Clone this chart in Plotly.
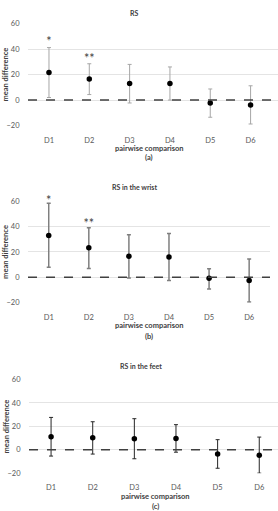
import plotly.graph_objects as go

categories = ["D1", "D2", "D3", "D4", "D5", "D6"]

# Panel (a) RS
a_mean = [21.6, 16.5, 13.0, 13.0, -2.3, -3.8]
a_upper = [41.2, 28.5, 28.0, 26.0, 8.7, 11.2]
a_lower = [2.0, 4.3, -2.3, 0.0, -13.5, -18.8]
a_stars = ["*", "**"]
a_star_y = [44.8, 31.9]

# Panel (b) RS in the wrist
b_mean = [33.0, 23.2, 16.5, 16.0, -0.8, -2.6]
b_upper = [58.3, 39.0, 33.5, 34.6, 6.7, 14.5]
b_lower = [8.0, 7.0, -0.5, -2.6, -9.3, -19.4]
b_stars = ["*", "**"]
b_star_y = [59.5, 41.6]

# Panel (c) RS in the feet
c_mean = [11.2, 10.3, 9.5, 9.8, -3.6, -4.5]
c_upper = [27.7, 24.0, 26.6, 21.5, 8.7, 10.9]
c_lower = [-5.3, -3.6, -7.6, -2.0, -15.7, -19.9]

titles = ["RS", "RS in the wrist", "RS in the feet"]
labels = ["(a)", "(b)", "(c)"]
y_ticks = [-20, 0, 20, 40, 60]

W, H = 278, 511
FONT = "Lato, Open Sans, sans-serif"
TICKC = "#595959"
TXTC = "#404040"

panels = [
    dict(mean=a_mean, up=a_upper, lo=a_lower, stars=a_stars, stary=a_star_y,
         top=20.0, bot=123.7, left=28, right=278, xr=[-0.52, 5.68],
         ecol="#a6a6a6", eth=1.0, title_y=9, title_x=134, xt_y=147, lab_y=156, xt_x=149),
    dict(mean=b_mean, up=b_upper, lo=b_lower, stars=b_stars, stary=b_star_y,
         top=200.7, bot=304.0, left=28, right=270, xr=[-0.517, 5.52],
         ecol="#7f7f7f", eth=1.5, title_y=186, title_x=134, xt_y=327, lab_y=338, xt_x=149),
    dict(mean=c_mean, up=c_upper, lo=c_lower, stars=[], stary=[],
         top=382.3, bot=477.7, left=29, right=278, xr=[-0.53, 5.45],
         ecol="#262626", eth=1.0, title_y=368, title_x=141, xt_y=501, lab_y=511, xt_x=155),
]

fig = go.Figure()
annotations = []
shapes = []

for i, p in enumerate(panels):
    n = "" if i == 0 else str(i + 1)
    xa, ya = "x" + n, "y" + n
    fig.add_trace(go.Scatter(
        x=categories, y=p["mean"], mode="markers",
        marker=dict(color="black", size=5.5),
        error_y=dict(type="data", symmetric=False,
                     array=[u - m for u, m in zip(p["up"], p["mean"])],
                     arrayminus=[m - l for m, l in zip(p["mean"], p["lo"])],
                     color=p["ecol"], thickness=p["eth"], width=2),
        xaxis=xa, yaxis=ya, showlegend=False, hoverinfo="skip"))
    if p["stars"]:
        fig.add_trace(go.Scatter(
            x=categories[:len(p["stars"])], y=p["stary"], mode="text",
            text=p["stars"], textposition="middle center", cliponaxis=False,
            textfont=dict(family=FONT, size=12.5, color=TXTC),
            xaxis=xa, yaxis=ya, showlegend=False, hoverinfo="skip"))
    ydom = [1 - p["bot"] / H, 1 - p["top"] / H]
    xdom = [p["left"] / W, min(1.0, p["right"] / W)]
    fig.layout["xaxis" + n] = dict(
        domain=xdom, anchor=ya, type="category", range=p["xr"],
        showgrid=False, zeroline=False, showline=False,
        ticks="outside", ticklen=7, tickcolor="rgba(0,0,0,0)",
        tickfont=dict(family=FONT, size=7.5, color=TICKC), fixedrange=True)
    fig.layout["yaxis" + n] = dict(
        domain=ydom, anchor=xa, range=[-20, 60], tickvals=y_ticks,
        showgrid=True, gridcolor="#e4e4e4", gridwidth=1,
        zeroline=False, showline=False,
        ticks="outside", ticklen=6, tickcolor="rgba(0,0,0,0)",
        tickfont=dict(family=FONT, size=7.5, color=TICKC), fixedrange=True)
    shapes.append(dict(type="line", xref=xa + " domain", yref=ya,
                       x0=0, x1=1, y0=0, y1=0,
                       line=dict(color="#404040", width=1.5, dash="dash"),
                       layer="above"))
    annotations.append(dict(x=p["title_x"] / W, y=1 - p["title_y"] / H,
                            xref="paper", yref="paper", text="<b>" + titles[i] + "</b>",
                            showarrow=False, yanchor="middle",
                            font=dict(family=FONT, size=7, color=TXTC)))
    annotations.append(dict(x=p["xt_x"] / W, y=1 - p["xt_y"] / H,
                            xref="paper", yref="paper", text="<b>pairwise comparison</b>",
                            showarrow=False, yanchor="middle",
                            font=dict(family=FONT, size=7.5, color=TXTC)))
    annotations.append(dict(x=p["xt_x"] / W, y=1 - p["lab_y"] / H,
                            xref="paper", yref="paper", text="<b>" + labels[i] + "</b>",
                            showarrow=False, yanchor="middle",
                            font=dict(family=FONT, size=7.5, color=TXTC)))
    annotations.append(dict(x=6 / W, y=1 - (p["top"] + p["bot"]) / 2 / H,
                            xref="paper", yref="paper", text="<b>mean difference</b>",
                            showarrow=False, textangle=-90, xanchor="center", yanchor="middle",
                            font=dict(family=FONT, size=7.5, color=TXTC)))

fig.update_layout(width=W, height=H, margin=dict(l=0, r=0, t=0, b=0),
                  paper_bgcolor="white", plot_bgcolor="white",
                  annotations=annotations, shapes=shapes)

fig.write_html("out.html", config={"displayModeBar": False})
